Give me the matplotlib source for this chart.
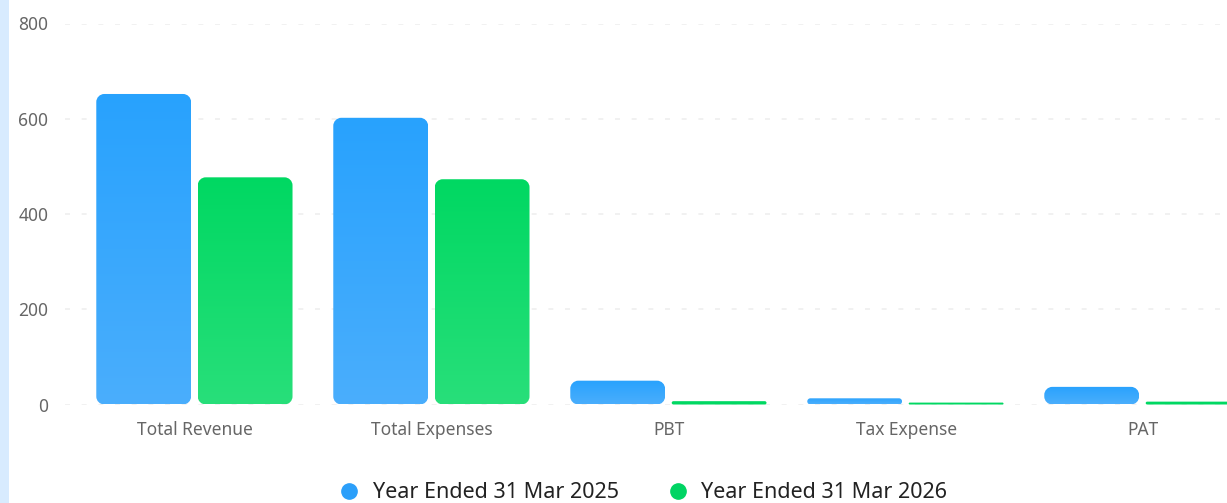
import numpy as np
import matplotlib
matplotlib.use("Agg")
import matplotlib.pyplot as plt
from matplotlib.path import Path
from matplotlib.patches import PathPatch, Rectangle
from matplotlib.lines import Line2D
from matplotlib.colors import LinearSegmentedColormap

categories = ["Total Revenue", "Total Expenses", "PBT", "Tax Expense", "PAT"]
series_names = ["Year Ended 31 Mar 2025", "Year Ended 31 Mar 2026"]
values_2025 = [652, 602, 50, 13, 37]
values_2026 = [477, 473, 7, 4, 6]
yticks = [0, 200, 400, 600, 800]

colors_top = ["#28a2fe", "#00d862"]
colors_bot = ["#4aaefc", "#28df7a"]
legend_colors = ["#2b9ffa", "#00d463"]

W, H, DPI = 1227, 503, 100
fig = plt.figure(figsize=(W / DPI, H / DPI), dpi=DPI)
fig.patch.set_facecolor("white")
fig.add_artist(Rectangle((0, 0), 9 / W, 1, transform=fig.transFigure,
                         facecolor="#d8ebfe", edgecolor="none"))

left_px, right_px = 65, 1227
top_px, bot_px = 23.5, 404.5
ax = fig.add_axes([left_px / W, 1 - bot_px / H, (right_px - left_px) / W, (bot_px - top_px) / H])
ax.set_xlim(-0.549, 4.354)
ax.set_ylim(0, 800)
for s in ax.spines.values():
    s.set_visible(False)
ax.set_facecolor("none")
ax.set_yticks(yticks)
ax.set_yticklabels([str(v) for v in yticks])
ax.set_xticks(range(len(categories)))
ax.set_xticklabels(categories)
ax.tick_params(axis="both", length=0, labelsize=12.5, labelcolor="#666666")
ax.tick_params(axis="y", pad=12)
ax.tick_params(axis="x", pad=12)
for lbl in ax.get_xticklabels() + ax.get_yticklabels():
    lbl.set_fontfamily("Noto Sans")
ax.grid(axis="y", color="#efefef", linestyle=(0, (3, 7)), linewidth=1.2)
ax.set_axisbelow(True)

fig.canvas.draw()
px_per_x = ax.transData.transform((1, 0))[0] - ax.transData.transform((0, 0))[0]
px_per_y = ax.transData.transform((0, 1))[1] - ax.transData.transform((0, 0))[1]

def rounded_path(x0, y0, w, h, r_px):
    w_px, h_px = w * px_per_x, h * px_per_y
    r = min(r_px, w_px / 2, h_px / 2)
    rx, ry = r / px_per_x, r / px_per_y
    k = 0.5523
    x1, y1 = x0 + w, y0 + h
    verts = [
        (x0 + rx, y0), (x1 - rx, y0),
        (x1 - rx + k * rx, y0), (x1, y0 + ry - k * ry), (x1, y0 + ry),
        (x1, y1 - ry),
        (x1, y1 - ry + k * ry), (x1 - rx + k * rx, y1), (x1 - rx, y1),
        (x0 + rx, y1),
        (x0 + rx - k * rx, y1), (x0, y1 - ry + k * ry), (x0, y1 - ry),
        (x0, y0 + ry),
        (x0, y0 + ry - k * ry), (x0 + rx - k * rx, y0), (x0 + rx, y0),
        (x0 + rx, y0),
    ]
    codes = [Path.MOVETO, Path.LINETO,
             Path.CURVE4, Path.CURVE4, Path.CURVE4,
             Path.LINETO,
             Path.CURVE4, Path.CURVE4, Path.CURVE4,
             Path.LINETO,
             Path.CURVE4, Path.CURVE4, Path.CURVE4,
             Path.LINETO,
             Path.CURVE4, Path.CURVE4, Path.CURVE4,
             Path.CLOSEPOLY]
    return Path(verts, codes)

bar_w = 0.40
offsets = [-0.217, 0.211]
x = np.arange(len(categories))
for si, vals in enumerate([values_2025, values_2026]):
    bars = ax.bar(x + offsets[si], vals, width=bar_w, color="none", edgecolor="none")
    cmap = LinearSegmentedColormap.from_list("g%d" % si, [colors_bot[si], colors_top[si]])
    for b in bars:
        bx, by, bw, bh = b.get_x(), b.get_y(), b.get_width(), b.get_height()
        if bh * px_per_y < 6:
            p = PathPatch(rounded_path(bx, by, bw, bh, 8), facecolor=colors_top[si],
                          edgecolor="none", zorder=2)
            ax.add_patch(p)
            continue
        p = PathPatch(rounded_path(bx, by, bw, bh, 8), facecolor="none", edgecolor="none")
        ax.add_patch(p)
        grad = np.linspace(0, 1, 256).reshape(-1, 1)
        im = ax.imshow(grad, cmap=cmap, origin="lower", aspect="auto",
                       extent=(bx, bx + bw, by, by + bh), zorder=2,
                       interpolation="bilinear")
        im.set_clip_path(p)
ax.set_xlim(-0.549, 4.354)
ax.set_ylim(0, 800)

handles = [Line2D([], [], marker="o", linestyle="none", markersize=11,
                  markerfacecolor=c, markeredgecolor=c) for c in legend_colors]
leg = fig.legend(handles, series_names, loc="center", bbox_to_anchor=(637.5 / W, 1 - 493 / H),
                 ncol=2, frameon=False, handletextpad=0.1, columnspacing=1.72,
                 prop={"family": "Noto Sans", "size": 15.5})
for t in leg.get_texts():
    t.set_color("#222222")

fig.savefig("out.png", dpi=DPI, facecolor="white")
